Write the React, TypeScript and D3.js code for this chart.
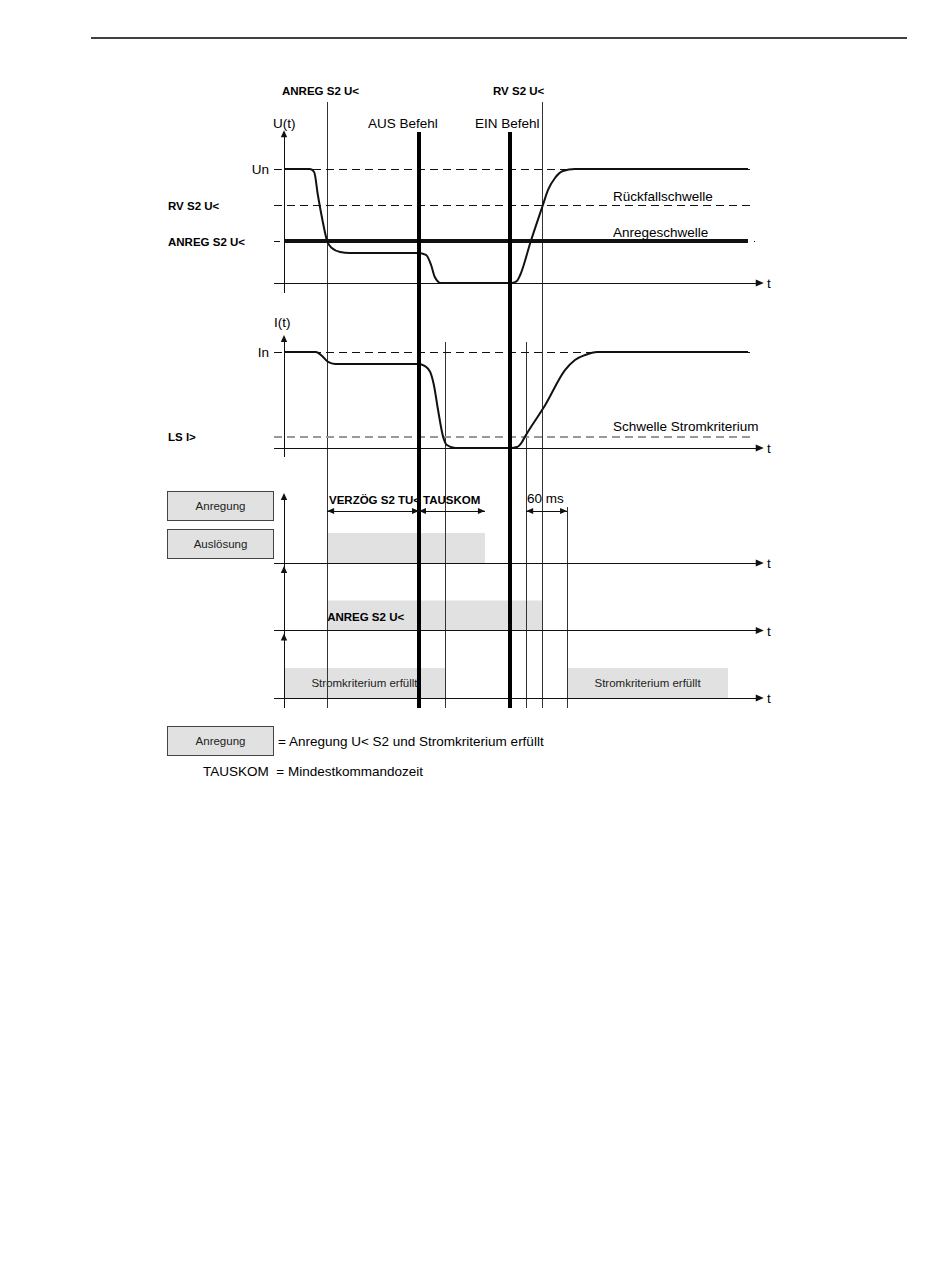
import React from 'react';
import * as d3 from 'd3';

// time runs in arbitrary units: 0 = start of U(t)/I(t), 100 = end of the traces
const tAnreg = 9.3;
const tAus = 29.1;
const tIDrop = 34.7;
const tTauskomEnd = 43.3;
const tEin = 48.7;
const tIRise = 52.2;
const tRv = 55.8;
const t60 = 61.0;
const tStromEnd = 95.7;

// voltage trace (U / Un)
const uT = [0, 5.6, 6.5, 7.3, 8.2, 9.3, 10.3, 12.1, 14.2, 28.9, 30.6, 31.7, 32.5, 33.8, 49.1, 50.2, 50.9, 53.2, 55.8, 56.9, 58.4, 60.1, 62.7, 100];
const uV = [1, 1, 0.974, 0.772, 0.57, 0.368, 0.307, 0.272, 0.263, 0.263, 0.246, 0.158, 0.053, 0, 0, 0.018, 0.07, 0.368, 0.684, 0.816, 0.921, 0.982, 1, 1];

// current trace (I / In)
const iT = [0, 6.9, 8.2, 9.5, 11.0, 28.9, 30.4, 31.5, 32.3, 33.2, 34.3, 35.1, 36.9, 48.9, 50.2, 51.3, 51.9, 56.3, 60.6, 62.7, 64.9, 67.5, 100];
const iV = [1, 1, 0.958, 0.896, 0.875, 0.875, 0.854, 0.792, 0.656, 0.396, 0.115, 0.031, 0, 0, 0.01, 0.063, 0.115, 0.448, 0.813, 0.917, 0.969, 1, 1];

const uRv = 0.684;
const uAnreg = 0.368;
const iLs = 0.115;

const lanes = ['Auslösung', 'ANREG S2 U<', 'Stromkriterium'];
const laneBands = [
  { lane: 'Auslösung', t0: tAnreg, t1: tTauskomEnd, label: '' },
  { lane: 'ANREG S2 U<', t0: tAnreg, t1: tRv, label: '' },
  { lane: 'Stromkriterium', t0: 0, t1: tIDrop, label: 'Stromkriterium erfüllt' },
  { lane: 'Stromkriterium', t0: t60, t1: tStromEnd, label: 'Stromkriterium erfüllt' },
];

const spans = [
  { t0: tAnreg, t1: tAus, label: 'VERZÖG S2 TU<' },
  { t0: tAus, t1: tTauskomEnd, label: 'TAUSKOM' },
  { t0: tIRise, t1: t60, label: '60 ms' },
];

const commandLines = [tAus, tEin];
const thinFromTop = [tAnreg, tRv];
const thinFromCurrent = [tIDrop, tIRise];
const thinFromLanes = [t60];

const FONT = 'Liberation Sans, Arial, sans-serif';
const INK = '#111';
const GREY = '#e1e1e1';

const x = d3.scaleLinear().domain([0, 100]).range([284, 748]);
const yU = d3.scaleLinear().domain([0, 1]).range([283, 169]);
const yI = d3.scaleLinear().domain([0, 1]).range([448, 352]);
const laneY = d3.scalePoint<string>().domain(lanes).range([563, 698]);

const xStart = x(-2.15);
const xArrow = x(103.4);
const xDashEnd = x(101);
const yBottom = 708;

function head(xt: number, yt: number, dir: string, len = 7, half = 3.2) {
  let pts: number[][];
  if (dir === 'up') pts = [[xt, yt], [xt - half, yt + len], [xt + half, yt + len]];
  else if (dir === 'right') pts = [[xt, yt], [xt - len, yt - half], [xt - len, yt + half]];
  else pts = [[xt, yt], [xt + len, yt - half], [xt + len, yt + half]];
  return <polygon points={pts.map(p => p.join(',')).join(' ')} fill={INK} />;
}

function tAxis(y: number) {
  return (
    <g>
      <line x1={xStart} x2={xArrow - 4} y1={y} y2={y} stroke={INK} strokeWidth={1} shapeRendering="crispEdges" />
      {head(xArrow, y, 'right', 8, 3.5)}
      <text x={767} y={y + 5} fontSize={13.5} fontFamily={FONT}>t</text>
    </g>
  );
}

export default function App() {
  const uLine = d3.line<number>().x((_, i) => x(uT[i])).y(v => yU(v)).curve(d3.curveMonotoneX);
  const iLine = d3.line<number>().x((_, i) => x(iT[i])).y(v => yI(v)).curve(d3.curveMonotoneX);
  const bandH = 30;
  const spanY = 511;

  return (
    <svg width={950} height={1288} style={{ position: 'absolute', left: 0, top: 0 }} fontFamily={FONT}>
      <rect width={950} height={1288} fill="#fff" />
      <line x1={91} x2={907} y1={38} y2={38} stroke="#000" strokeWidth={1.5} />

      {/* lane bands */}
      {laneBands.map((b, k) => {
        const y0 = (laneY(b.lane) as number) - bandH;
        return (
          <g key={'b' + k}>
            <rect x={x(b.t0)} y={y0} width={x(b.t1) - x(b.t0)} height={bandH} fill={GREY} />
            {b.label && (
              <text x={(x(b.t0) + x(b.t1)) / 2} y={y0 + bandH / 2 + 4} fontSize={11.5} textAnchor="middle" fill="#222">{b.label}</text>
            )}
          </g>
        );
      })}
      <text x={x(tAnreg)} y={(laneY('ANREG S2 U<') as number) - 10} fontSize={11.5} fontWeight="bold">ANREG S2 U&lt;</text>

      <g shapeRendering="crispEdges">
        {/* thin time markers */}
        {thinFromTop.map(t => <line key={'a' + t} x1={x(t)} x2={x(t)} y1={102} y2={yBottom} stroke="#333" strokeWidth={1} />)}
        {thinFromCurrent.map(t => <line key={'c' + t} x1={x(t)} x2={x(t)} y1={342} y2={yBottom} stroke="#333" strokeWidth={1} />)}
        {thinFromLanes.map(t => <line key={'l' + t} x1={x(t)} x2={x(t)} y1={507} y2={yBottom} stroke="#333" strokeWidth={1} />)}

        {/* threshold lines U */}
        <line x1={xStart} x2={xDashEnd} y1={yU(1)} y2={yU(1)} stroke={INK} strokeWidth={1} strokeDasharray="8 5" />
        <line x1={xStart} x2={xDashEnd} y1={yU(uRv)} y2={yU(uRv)} stroke={INK} strokeWidth={1} strokeDasharray="8 5" />
        <line x1={xStart} x2={xStart + 6} y1={yU(uAnreg)} y2={yU(uAnreg)} stroke={INK} strokeWidth={1} />
        <line x1={x(0)} x2={x(100)} y1={yU(uAnreg)} y2={yU(uAnreg)} stroke={INK} strokeWidth={3.5} />
        <line x1={x(101.2)} x2={x(101.6)} y1={yU(uAnreg)} y2={yU(uAnreg)} stroke={INK} strokeWidth={1} />

        {/* threshold lines I */}
        <line x1={xStart} x2={xDashEnd} y1={yI(1)} y2={yI(1)} stroke={INK} strokeWidth={1} strokeDasharray="8 5" />
        <line x1={xStart} x2={xDashEnd} y1={yI(iLs)} y2={yI(iLs)} stroke="#999" strokeWidth={1.5} strokeDasharray="8 5" />

        {/* vertical axes */}
        <line x1={x(0)} x2={x(0)} y1={yU(1.34) + 5} y2={yU(-0.09)} stroke={INK} strokeWidth={1} />
        <line x1={x(0)} x2={x(0)} y1={yI(1.177) + 5} y2={yI(-0.094)} stroke={INK} strokeWidth={1} />
        <line x1={x(0)} x2={x(0)} y1={(laneY(lanes[0]) as number) - 65} y2={yBottom} stroke={INK} strokeWidth={1} />
      </g>

      {head(x(0), yU(1.34), 'up')}
      {tAxis(yU(0))}
      {head(x(0), yI(1.177), 'up')}
      {tAxis(yI(0))}

      {lanes.map((l, k) => {
        const base = laneY(l) as number;
        const top = k === 0 ? base - 70 : (laneY(lanes[k - 1]) as number) + 3;
        return (
          <g key={'ln' + l}>
            {head(x(0), top, 'up')}
            {tAxis(base)}
          </g>
        );
      })}

      {/* traces */}
      <path d={uLine(uV) || ''} fill="none" stroke={INK} strokeWidth={2} />
      <path d={iLine(iV) || ''} fill="none" stroke={INK} strokeWidth={2} />

      {/* command lines */}
      {commandLines.map(t => <line key={'k' + t} x1={x(t)} x2={x(t)} y1={132} y2={yBottom} stroke="#000" strokeWidth={4} shapeRendering="crispEdges" />)}

      {/* dimension arrows */}
      {spans.map((s, k) => (
        <g key={'s' + k}>
          <line x1={x(s.t0)} x2={x(s.t1)} y1={spanY} y2={spanY} stroke={INK} strokeWidth={1} shapeRendering="crispEdges" />
          {head(x(s.t0), spanY, 'left', 7, 3)}
          {head(x(s.t1), spanY, 'right', 7, 3)}
        </g>
      ))}
      <text x={329} y={504} fontSize={11.5} fontWeight="bold">{spans[0].label}</text>
      <text x={423} y={504} fontSize={11.5} fontWeight="bold">{spans[1].label}</text>
      <text x={527} y={503} fontSize={13.5}>{spans[2].label}</text>

      {/* labels */}
      <text x={282} y={95} fontSize={11.5} fontWeight="bold">ANREG S2 U&lt;</text>
      <text x={493} y={95} fontSize={11.5} fontWeight="bold">RV S2 U&lt;</text>
      <text x={273} y={128} fontSize={13.5}>U(t)</text>
      <text x={368} y={128} fontSize={13.5}>AUS Befehl</text>
      <text x={475} y={128} fontSize={13.5}>EIN Befehl</text>
      <text x={269} y={yU(1) + 5} fontSize={13.5} textAnchor="end">Un</text>
      <text x={168} y={yU(uRv) + 5} fontSize={11.5} fontWeight="bold">RV S2 U&lt;</text>
      <text x={168} y={yU(uAnreg) + 4.5} fontSize={11.5} fontWeight="bold">ANREG S2 U&lt;</text>
      <text x={613} y={yU(uRv) - 4} fontSize={13.5}>Rückfallschwelle</text>
      <text x={613} y={yU(uAnreg) - 4} fontSize={13.5}>Anregeschwelle</text>

      <text x={274} y={327} fontSize={13.5}>I(t)</text>
      <text x={269} y={yI(1) + 5} fontSize={13.5} textAnchor="end">In</text>
      <text x={168} y={yI(iLs) + 4.5} fontSize={11.5} fontWeight="bold">LS I&gt;</text>
      <text x={613} y={yI(iLs) - 5.5} fontSize={13.5}>Schwelle Stromkriterium</text>

      {/* boxes */}
      {[['Anregung', 491], ['Auslösung', 529], ['Anregung', 726]].map(([label, y], k) => (
        <g key={'bx' + k}>
          <rect x={167.5} y={(y as number) + 0.5} width={106} height={29} fill={GREY} stroke="#444" strokeWidth={1} />
          <text x={220.5} y={(y as number) + 19} fontSize={11.5} textAnchor="middle" fill="#222">{label}</text>
        </g>
      ))}
      <text x={278} y={746} fontSize={13.5}>= Anregung U&lt; S2 und Stromkriterium erfüllt</text>
      <text x={203} y={776} fontSize={13.5} style={{ whiteSpace: 'pre' }}>TAUSKOM  = Mindestkommandozeit</text>
    </svg>
  );
}
